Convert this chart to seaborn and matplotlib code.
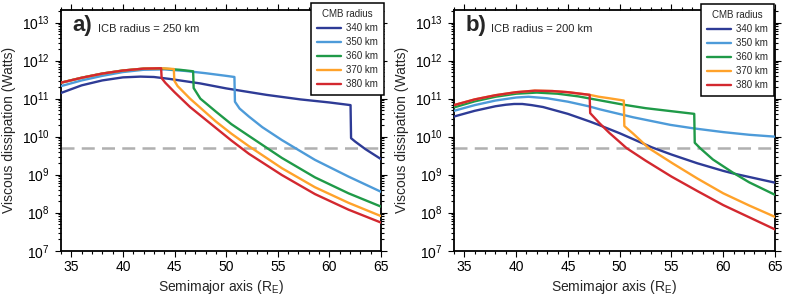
"""
Viscous dissipation vs semimajor axis for two ICB radii, five CMB radii each.
"""

import matplotlib
matplotlib.use('Agg')
import matplotlib.pyplot as plt
from matplotlib.lines import Line2D
from matplotlib.ticker import LogLocator, LogFormatterMathtext, MultipleLocator, NullFormatter
import seaborn as sns
import pandas as pd
import numpy as np

# ---------------------------------------------------------------------------
# Data: semimajor axis (R_E) and log10 dissipation (W)
# ---------------------------------------------------------------------------

cmb_labels = ['340 km', '350 km', '360 km', '370 km', '380 km']
colors     = ['#2e3b96', '#4d9bd9', '#1f9a48', '#ffa22a', '#d3282f']

# panel a) ICB radius = 250 km
a_x_340 = [34, 36, 38, 40, 41.7, 43, 44.5, 46, 47.5, 50, 53.9, 57.2, 60, 62.05, 62.1, 62.5, 63.5, 65]
a_y_340 = [11.15, 11.35, 11.48, 11.56, 11.58, 11.57, 11.52, 11.46, 11.40, 11.27, 11.10, 10.98,
           10.90, 10.83, 9.96, 9.87, 9.67, 9.41]
a_x_350 = [34, 36, 38, 40, 42, 44, 46, 48, 50, 50.8, 50.85, 51.3, 52.2, 53.5, 55.4, 58.6, 61.85, 65]
a_y_350 = [11.33, 11.48, 11.60, 11.70, 11.76, 11.77, 11.73, 11.67, 11.60, 11.57, 10.92, 10.74,
           10.53, 10.25, 9.91, 9.39, 8.95, 8.55]
a_x_360 = [34, 36, 38, 40, 42, 44, 45.5, 46.8, 46.85, 47.5, 49, 50.5, 52.2, 55.4, 58.6, 61.85, 65]
a_y_360 = [11.42, 11.55, 11.66, 11.74, 11.79, 11.79, 11.76, 11.72, 11.28, 11.00, 10.66, 10.33,
           10.02, 9.44, 8.93, 8.51, 8.16]
a_x_370 = [34, 36, 38, 40, 42, 43.7, 44.93, 44.98, 45.3, 46.5, 48, 49, 50.5, 52.2, 55.4, 58.6, 61.85, 65]
a_y_370 = [11.42, 11.55, 11.66, 11.74, 11.79, 11.80, 11.78, 11.47, 11.33, 11.00, 10.64, 10.40,
           10.08, 9.75, 9.17, 8.67, 8.26, 7.91]
a_x_380 = [34, 36, 38, 40, 42, 43.7, 43.75, 44.1, 45, 46.5, 48, 49, 50.5, 52.2, 55.4, 58.6, 61.85, 65]
a_y_380 = [11.42, 11.55, 11.66, 11.74, 11.79, 11.80, 11.54, 11.42, 11.17, 10.78, 10.45, 10.23,
           9.90, 9.55, 8.99, 8.49, 8.08, 7.74]

# panel b) ICB radius = 200 km
b_x_340 = [34, 36, 38, 39, 39.8, 40.6, 41.5, 42.6, 45, 47.1, 48.07, 50, 53.1, 55, 57.5, 60, 61, 62.5, 65]
b_y_340 = [10.53, 10.68, 10.80, 10.84, 10.86, 10.86, 10.83, 10.78, 10.60, 10.40, 10.30, 10.09,
           9.72, 9.53, 9.30, 9.10, 9.03, 8.94, 8.79]
b_x_350 = [34, 36, 38, 40, 41.2, 43, 45, 47, 48.07, 51.3, 54.9, 57.1, 60, 62.5, 65]
b_y_350 = [10.68, 10.83, 10.95, 11.03, 11.05, 11.01, 10.92, 10.80, 10.72, 10.51, 10.31, 10.22,
           10.12, 10.05, 10.00]
b_x_360 = [34, 36, 38, 40, 42, 44, 46, 48, 50.4, 52.5, 55, 57.2, 57.25, 57.8, 59, 60.9, 62.5, 65]
b_y_360 = [10.77, 10.93, 11.05, 11.13, 11.16, 11.13, 11.06, 10.96, 10.84, 10.75, 10.67, 10.60,
           9.84, 9.69, 9.40, 9.06, 8.80, 8.47]
b_x_370 = [34, 36, 38, 40, 41.8, 43.5, 45, 47.1, 48, 49, 50.4, 50.45, 51.3, 52.8, 55.1, 57.5, 60, 62.5, 65]
b_y_370 = [10.83, 10.98, 11.09, 11.17, 11.21, 11.20, 11.17, 11.10, 11.05, 11.01, 10.95, 10.28,
           10.08, 9.70, 9.30, 8.90, 8.51, 8.19, 7.89]
b_x_380 = [34, 36, 38, 40, 41.8, 43.5, 45, 47.1, 47.15, 48.07, 49, 50, 50.66, 52.5, 55, 57.5, 60, 62.5, 65]
b_y_380 = [10.83, 10.98, 11.09, 11.17, 11.21, 11.20, 11.17, 11.10, 10.62, 10.35, 10.10, 9.86,
           9.70, 9.37, 8.95, 8.57, 8.20, 7.88, 7.56]

threshold = 4.9e9   # grey dashed line (W)

panels = [
    ('a)', 'ICB radius = 250 km',
     [(a_x_340, a_y_340), (a_x_350, a_y_350), (a_x_360, a_y_360), (a_x_370, a_y_370), (a_x_380, a_y_380)]),
    ('b)', 'ICB radius = 200 km',
     [(b_x_340, b_y_340), (b_x_350, b_y_350), (b_x_360, b_y_360), (b_x_370, b_y_370), (b_x_380, b_y_380)]),
]

# ---------------------------------------------------------------------------
# Style
# ---------------------------------------------------------------------------

sns.set_style('ticks')
plt.rcParams['font.family'] = ['Liberation Sans', 'DejaVu Sans']
plt.rcParams['mathtext.fontset'] = 'custom'
plt.rcParams['mathtext.rm'] = 'Liberation Sans'
plt.rcParams['mathtext.it'] = 'Liberation Sans:italic'
plt.rcParams['mathtext.bf'] = 'Liberation Sans:bold'

fig = plt.figure(figsize=(7.99, 3.0), dpi=100)
ax_rects = [(61 / 799, 1 - 250.7 / 300, 320 / 799, 240.7 / 300),
            (454 / 799, 1 - 250.7 / 300, 321 / 799, 240.7 / 300)]
legend_anchor = [(383.5 / 799, 1 - 3 / 300), (774 / 799, 1 - 4 / 300)]

for (letter, icb, series), rect, anchor in zip(panels, ax_rects, legend_anchor):
    ax = fig.add_axes(rect)

    rows = []
    for lab, (xs, ys) in zip(cmb_labels, series):
        for x, y in zip(xs, ys):
            rows.append({'a': x, 'P': 10 ** y, 'CMB': lab})
    df = pd.DataFrame(rows)

    ax.axhline(threshold, color='#b0b0b0', lw=1.8, dashes=(5.2, 2.9), zorder=1)
    sns.lineplot(data=df, x='a', y='P', hue='CMB', hue_order=cmb_labels,
                 palette=colors, estimator=None, sort=False, lw=1.7,
                 legend=False, ax=ax, zorder=3)

    ax.set_yscale('log')
    ax.set_xlim(34, 65)
    ax.set_ylim(1e7, 2.15e13)
    ax.xaxis.set_major_locator(MultipleLocator(5))
    ax.xaxis.set_minor_locator(MultipleLocator(1))
    ax.yaxis.set_major_locator(LogLocator(base=10, numticks=20))
    ax.yaxis.set_major_formatter(LogFormatterMathtext())
    ax.yaxis.set_minor_locator(LogLocator(base=10, subs=np.arange(2, 10), numticks=20))
    ax.yaxis.set_minor_formatter(NullFormatter())

    ax.tick_params(which='both', direction='out', top=True, right=True,
                   colors='black', labelsize=10, width=0.8)
    ax.tick_params(which='major', length=4.5)
    ax.tick_params(which='minor', length=2.2)
    ax.tick_params(axis='x', pad=2)
    for sp in ax.spines.values():
        sp.set_visible(True)
        sp.set_linewidth(1.3)
        sp.set_color('black')

    ax.set_xlabel('Semimajor axis (R$_\\mathrm{E}$)', fontsize=10, labelpad=3)
    ax.set_ylabel('Viscous dissipation (Watts)', fontsize=10, labelpad=4)

    ax.text(0.035, 0.935, letter, transform=ax.transAxes, fontsize=16,
            fontweight='bold', ha='left', va='center')
    ax.text(0.115, 0.92, icb, transform=ax.transAxes, fontsize=8,
            ha='left', va='center')

    handles = [Line2D([], [], color=c, lw=1.7) for c in colors]
    leg = ax.legend(handles, cmb_labels, title='CMB radius', loc='upper right',
                    bbox_to_anchor=anchor, bbox_transform=fig.transFigure,
                    fontsize=7, title_fontsize=7, frameon=True, fancybox=False,
                    edgecolor='black', framealpha=1, handlelength=2.5,
                    handletextpad=0.5, labelspacing=0.42, borderpad=0.6,
                    borderaxespad=0)
    leg.get_frame().set_linewidth(1.1)
    leg.set_zorder(5)

fig.savefig('out.png', dpi=100)
